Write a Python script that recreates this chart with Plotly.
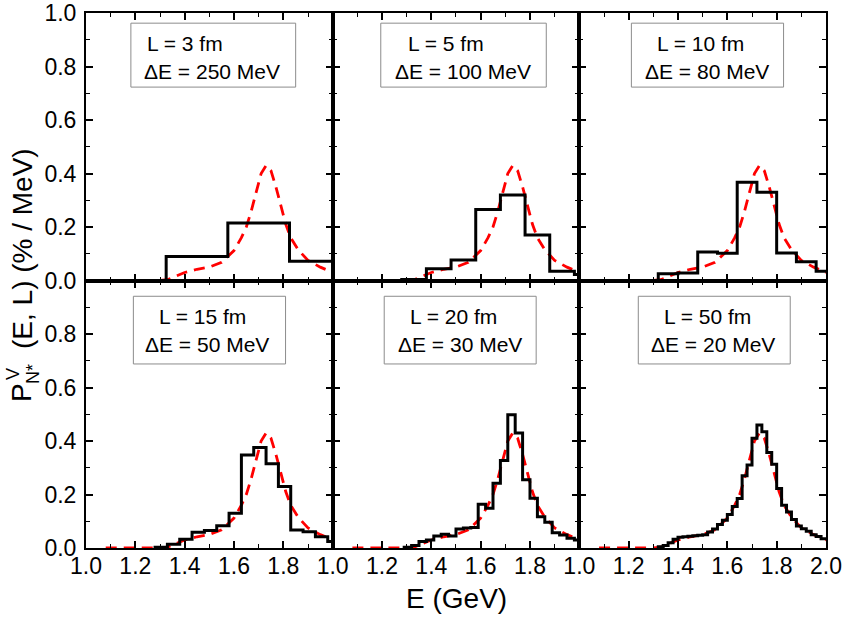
import plotly.graph_objects as go
from plotly.subplots import make_subplots

# ---------------- data ----------------
panel_L = ["3", "5", "10", "15", "20", "50"]
panel_dE = ["250", "100", "80", "50", "30", "20"]

# histogram: first bin lower edge (GeV), bin width (GeV), bin heights (% / MeV)
h1_start, h1_width = 1.325, 0.25
h1_vals = [0.090, 0.215, 0.072]

h2_start, h2_width = 1.28, 0.10
h2_vals = [0.004, 0.044, 0.077, 0.265, 0.320, 0.170, 0.035, 0.022]

h3_start, h3_width = 1.32, 0.08
h3_vals = [0.025, 0.028, 0.107, 0.102, 0.367, 0.330, 0.103, 0.070, 0.035]

h4_start, h4_width = 1.28, 0.05
h4_vals = [0.003, 0.014, 0.033, 0.059, 0.065, 0.083, 0.130, 0.348, 0.376,
           0.315, 0.230, 0.067, 0.061, 0.042, 0.024]

h5_start, h5_width = 1.29, 0.03
h5_vals = [0.003, 0.009, 0.024, 0.030, 0.045, 0.051, 0.045, 0.071, 0.075,
           0.077, 0.164, 0.149, 0.242, 0.327, 0.498, 0.430, 0.255, 0.186,
           0.117, 0.096, 0.057, 0.049, 0.036, 0.030]

h6_start, h6_width = 1.32, 0.02
h6_vals = [0.005, 0.009, 0.020, 0.033, 0.040, 0.042, 0.044, 0.046, 0.048,
           0.050, 0.060, 0.071, 0.088, 0.104, 0.125, 0.155, 0.185, 0.270,
           0.310, 0.410, 0.460, 0.435, 0.357, 0.313, 0.222, 0.160, 0.135,
           0.107, 0.082, 0.072, 0.063, 0.050, 0.043, 0.035]

# red dashed reference spectrum (same in every panel)
curve_E = [1.08, 1.20, 1.30, 1.33, 1.36, 1.40, 1.45, 1.50, 1.55, 1.60, 1.63,
           1.65, 1.67, 1.69, 1.71, 1.73, 1.75, 1.77, 1.79, 1.81, 1.83, 1.86,
           1.90, 1.95, 2.00]
curve_P = [0.0, 0.0, 0.0, 0.003, 0.015, 0.030, 0.042, 0.050, 0.068, 0.112,
           0.160, 0.200, 0.260, 0.330, 0.400, 0.430, 0.410, 0.350, 0.280,
           0.210, 0.160, 0.115, 0.075, 0.050, 0.030]

x_ticks_full = [1.0, 1.2, 1.4, 1.6, 1.8, 2.0]
x_labels_full = ["1.0", "1.2", "1.4", "1.6", "1.8", "2.0"]
x_minor = [1.1, 1.3, 1.5, 1.7, 1.9]
y_ticks_full = [0.0, 0.2, 0.4, 0.6, 0.8, 1.0]
y_labels_full = ["0.0", "0.2", "0.4", "0.6", "0.8", "1.0"]
y_minor = [0.1, 0.3, 0.5, 0.7, 0.9]

hists = [(h1_start, h1_width, h1_vals), (h2_start, h2_width, h2_vals),
         (h3_start, h3_width, h3_vals), (h4_start, h4_width, h4_vals),
         (h5_start, h5_width, h5_vals), (h6_start, h6_width, h6_vals)]

# ---------------- layout helpers (positions in data coords) ----------------
box_x = [(1.182, 1.850), (1.195, 1.866), (1.211, 1.828),
         (1.192, 1.809), (1.209, 1.825), (1.239, 1.855)]
box_y_top = (0.723, 0.962)
box_y_bot = (0.688, 0.941)
txt1_x = [1.240, 1.297, 1.305, 1.287, 1.304, 1.337]
txt2_x = [1.226, 1.244, 1.259, 1.233, 1.256, 1.283]

FONT = "Liberation Sans, Arial, sans-serif"
W, H = 843, 622
ML, MR, MT, MB = 86, 17, 13, 74

fig = make_subplots(rows=2, cols=3, horizontal_spacing=0, vertical_spacing=0)

for i, (start, width, vals) in enumerate(hists):
    r, c = i // 3 + 1, i % 3 + 1
    edges = [start + k * width for k in range(len(vals) + 1)]
    xs = [edges[0]] + edges
    ys = [0.0] + list(vals) + [vals[-1]]
    fig.add_trace(go.Scatter(x=curve_E, y=curve_P, mode="lines",
                             line=dict(color="#ff0000", width=2.8, dash="11px,7px"),
                             showlegend=False, hoverinfo="skip"), row=r, col=c)
    fig.add_trace(go.Scatter(x=xs, y=ys, mode="lines", line_shape="hv",
                             line=dict(color="black", width=3),
                             showlegend=False, hoverinfo="skip"), row=r, col=c)

    ax = "" if i == 0 else str(i + 1)
    xref, yref = "x" + ax, "y" + ax
    by = box_y_top if r == 1 else box_y_bot
    fig.add_shape(type="rect", xref=xref, yref=yref,
                  x0=box_x[i][0], x1=box_x[i][1], y0=by[0], y1=by[1],
                  line=dict(color="#8c8c8c", width=1), fillcolor="white", layer="below")
    yl1 = by[1] - 0.075
    yl2 = yl1 - 0.106
    fig.add_annotation(xref=xref, yref=yref, x=txt1_x[i], y=yl1, xanchor="left",
                       yanchor="middle", showarrow=False,
                       text="L = %s fm" % panel_L[i],
                       font=dict(family=FONT, size=21, color="black"))
    fig.add_annotation(xref=xref, yref=yref, x=txt2_x[i], y=yl2, xanchor="left",
                       yanchor="middle", showarrow=False,
                       text="ΔE = %s MeV" % panel_dE[i],
                       font=dict(family=FONT, size=21, color="black"))

    # axes
    if r == 2 and c < 3:
        xv, xt = x_ticks_full[:-1], x_labels_full[:-1]
    else:
        xv, xt = x_ticks_full, x_labels_full
    fig.update_xaxes(row=r, col=c, range=[1.0, 2.0], tickmode="array",
                     tickvals=xv, ticktext=xt, showticklabels=(r == 2),
                     ticks="inside", ticklen=7, tickwidth=1.6, tickcolor="black",
                     minor=dict(tickmode="array", tickvals=x_minor, ticks="inside",
                                ticklen=4, tickwidth=1.4, tickcolor="black"),
                     showline=True, linecolor="black", linewidth=2, mirror="ticks",
                     showgrid=False, zeroline=False, automargin=False,
                     ticklabeloverflow="allow", ticklabelstandoff=-4,
                     tickfont=dict(family=FONT, size=23, color="black"))
    if r == 2 and c == 1:
        yv, yt = y_ticks_full[:-1], y_labels_full[:-1]
    else:
        yv, yt = y_ticks_full, y_labels_full
    fig.update_yaxes(row=r, col=c, range=[0.0, 1.0], tickmode="array",
                     tickvals=yv, ticktext=yt, showticklabels=(c == 1),
                     ticks="inside", ticklen=7, tickwidth=1.6, tickcolor="black",
                     minor=dict(tickmode="array", tickvals=y_minor, ticks="inside",
                                ticklen=4, tickwidth=1.4, tickcolor="black"),
                     showline=True, linecolor="black", linewidth=2, mirror="ticks",
                     showgrid=False, zeroline=False, automargin=False,
                     ticklabeloverflow="allow", ticklabelstandoff=3,
                     tickfont=dict(family=FONT, size=23, color="black"))

# axis titles (positions given in window pixels of the reference)
pw = W - ML - MR
ph = H - MT - MB
def px_to_paper_x(px):
    return (px - ML) / pw
def px_to_paper_y(py):
    return ((H - MB) - py) / ph

fig.add_annotation(xref="paper", yref="paper", x=px_to_paper_x(456), y=px_to_paper_y(598),
                   xanchor="center", yanchor="middle", showarrow=False,
                   text="E (GeV)", font=dict(family=FONT, size=28, color="black"))

# rotated y title: "P", stacked super/subscript "V" / "N*", then "(E, L) (% / MeV)"
ytitle_parts = [("P", 21, 393, 28), ("V", 13, 374, 18), ("N*", 33, 374, 18),
                ("(E, L) (% / MeV)", 23, 249, 28)]
for txt, px, py, fs in ytitle_parts:
    fig.add_annotation(xref="paper", yref="paper", x=px_to_paper_x(px), y=px_to_paper_y(py),
                       xanchor="center", yanchor="middle", showarrow=False, textangle=-90,
                       text=txt, font=dict(family=FONT, size=fs, color="black"))

fig.update_layout(width=W, height=H, margin=dict(l=ML, r=MR, t=MT, b=MB, autoexpand=False),
                  plot_bgcolor="white", paper_bgcolor="white", showlegend=False)

# remove the browser's default page margin so the figure fills the window
fig.write_html("out.html", config={"displayModeBar": False},
               post_script="document.body.style.margin='0';document.body.style.overflow='hidden';")
